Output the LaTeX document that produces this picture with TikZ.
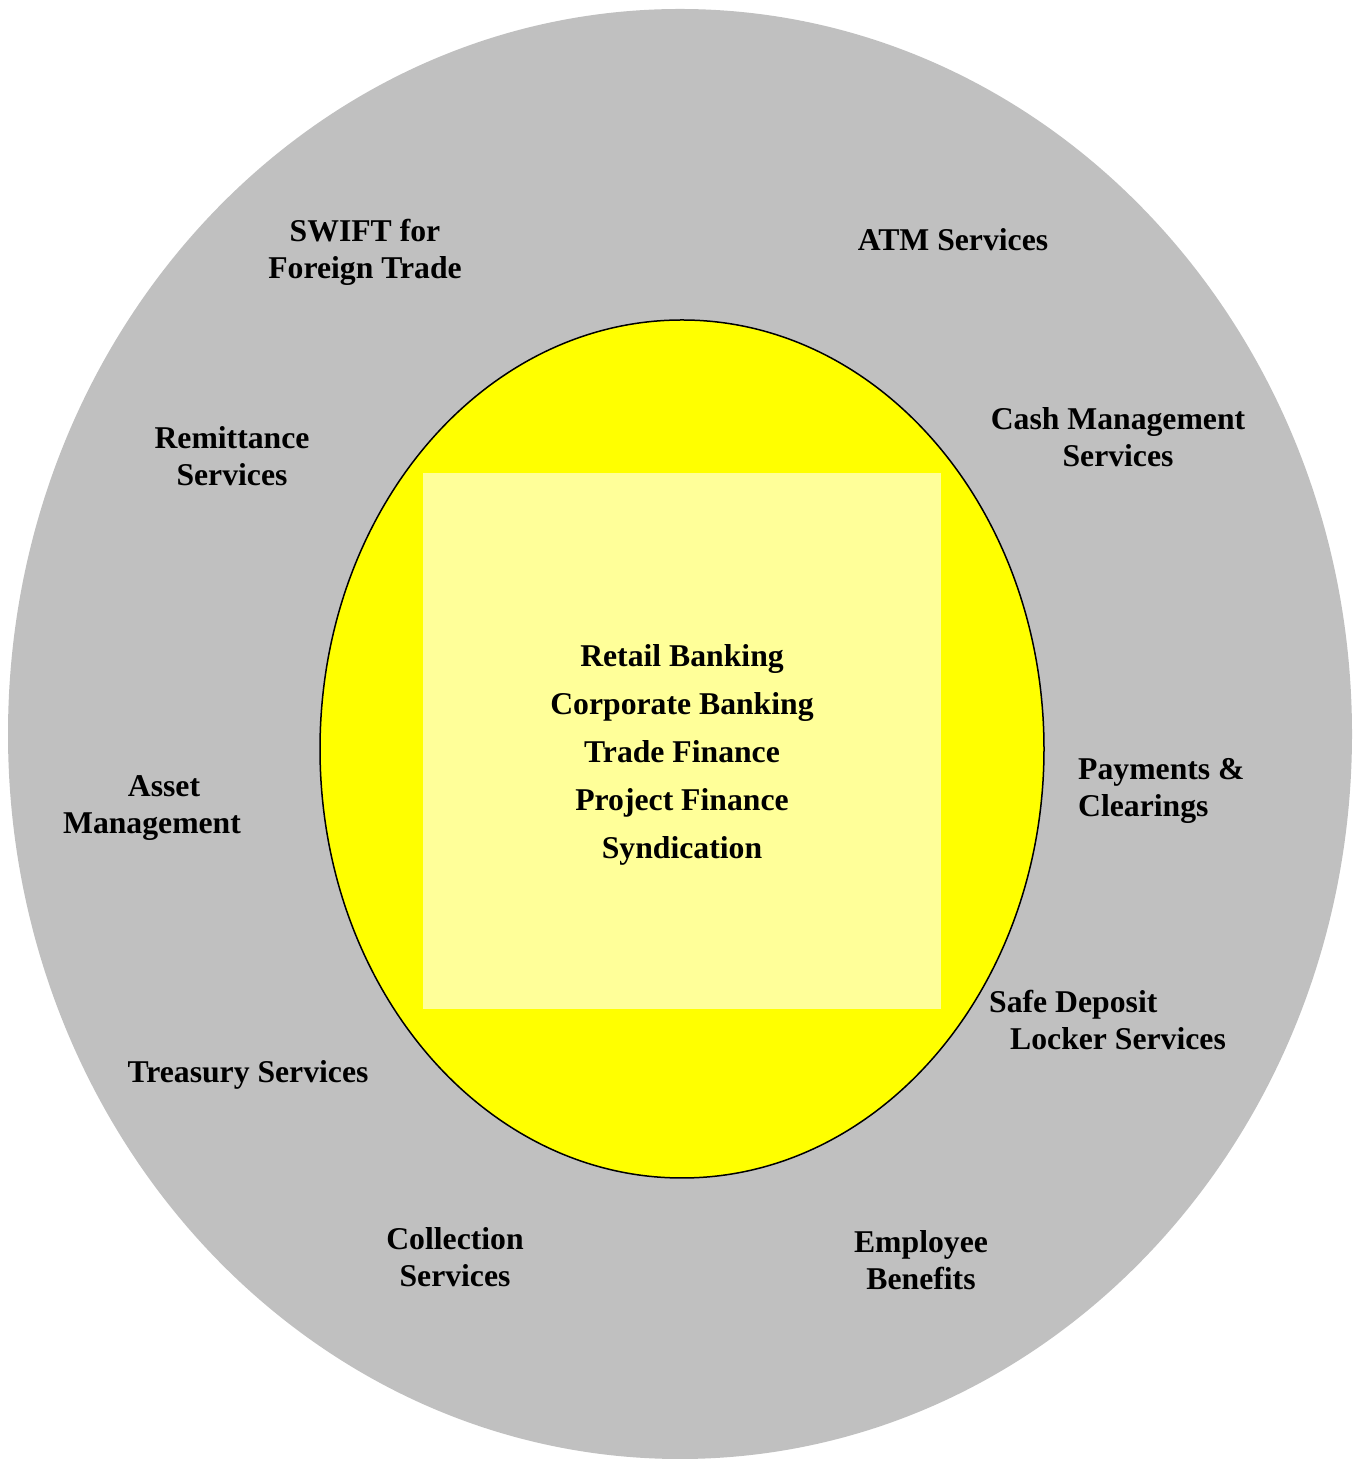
\documentclass[tikz,border=0pt]{standalone}
\usepackage{fontspec}
\setmainfont{Liberation Serif}
\usepackage{tikz}
\usetikzlibrary{positioning}
\definecolor{ringgray}{HTML}{C0C0C0}
\definecolor{coreyellow}{HTML}{FFFF00}
\definecolor{boxyellow}{HTML}{FFFF99}
\tikzstyle{service} = [inner sep=0pt, align=center, font=\fontsize{31.7}{37}\selectfont\bfseries]
\tikzstyle{leftservice} = [service, align=left, anchor=west]
\tikzstyle{core} = [inner sep=0pt, text height=22pt, text depth=7pt, font=\fontsize{31.7}{37}\selectfont\bfseries]

\begin{document}
\begin{tikzpicture}[x=1pt, y=1pt, node distance=48pt]
    \useasboundingbox (0,0) rectangle (1361,1459);
    \fill [ringgray] (680,725) ellipse (672 and 725);
    \filldraw [fill=coreyellow, draw=black, line width=1.5pt] (682,710) ellipse (362 and 429);
    \fill [boxyellow] (423,450) rectangle (941,986);
    \node (retail) [core] at (682,800) {Retail Banking};
    \node (corporate) [core, below of=retail] {Corporate Banking};
    \node (trade) [core, below of=corporate] {Trade Finance};
    \node (project) [core, below of=trade] {Project Finance};
    \node (synd) [core, below of=project] {Syndication};
    \node (swift) [service] at (365,1207) {SWIFT for\\Foreign Trade};
    \node (atm) [service] at (953,1219) {ATM Services};
    \node (cash) [service] at (1118,1022) {Cash Management\\Services};
    \node (remit) [service] at (232,1003) {Remittance\\Services};
    \node (asset) [service] at (152,651) {\hspace*{24pt}Asset\\Management};
    \node (pay) [leftservice] at (1078,668) {Payments \&\\Clearings};
    \node (safe) [leftservice] at (989,439) {Safe Deposit\\\hspace*{21pt}Locker Services};
    \node (treasury) [service] at (248,384) {Treasury Services};
    \node (collect) [service] at (455,202) {Collection\\Services};
    \node (employee) [service] at (921,199) {Employee\\Benefits};
\end{tikzpicture}
\end{document}
